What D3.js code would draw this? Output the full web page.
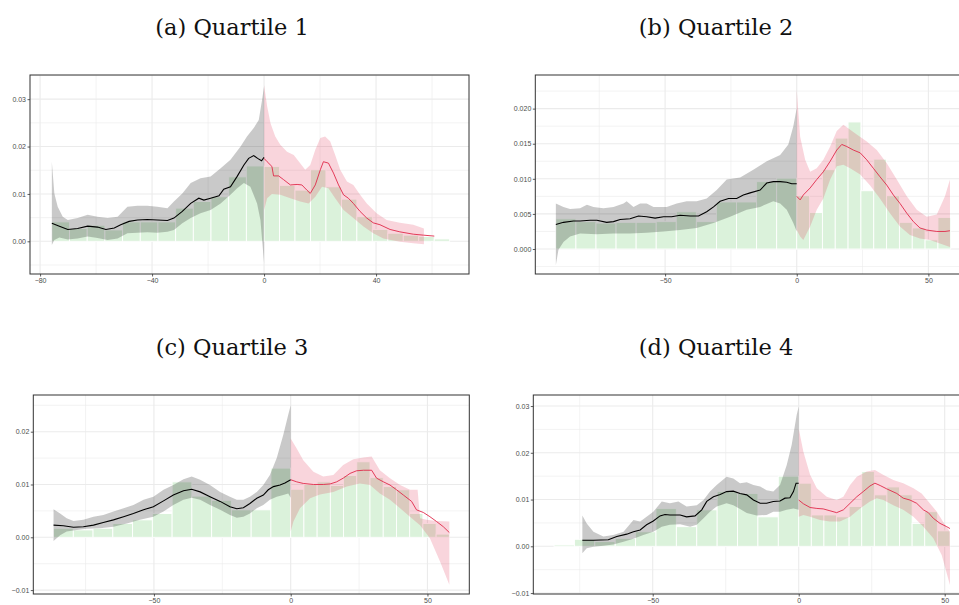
<!DOCTYPE html>
<html>
<head>
<meta charset="utf-8">
<script src="https://cdn.jsdelivr.net/npm/d3@7"></script>
<style>
  body{margin:0;background:#fff;}
  .title{font-family:"DejaVu Serif",serif;font-size:22.5px;fill:#111;}
  .axis text{font-family:"Liberation Sans",Arial,sans-serif;font-size:7px;fill:#4d4d4d;}
  .axis path{display:none;}
  .axis line{stroke:#333;stroke-width:0.8;}
</style>
</head>
<body>
<svg id="quartileChart" width="959" height="605"></svg>
<script>
// ---- Quartile 1 ----
var q1BarRange = [-75.8, 0, 66.3];
var q1BarsLeft = [.0041,.0027,.0034,.0024,.0041,.0041,.0041,.0070,.0084,.0094,.0136,.0159];
var q1BarsRight = [.0158,.0118,.0108,.0151,.0115,.0089,.0052,.0025,.0017,.0013,.0010,.0005];
var q1Black = [[-75.8,.0038],[-73.1,.0032],[-70.1,.0025],[-66.6,.0027],[-63,.0032],[-59.5,.0030],[-56.5,.0025],[-53.5,.0028],[-51.2,.0035],[-48.2,.0042],[-45.2,.0045],[-41.7,.0046],[-38.1,.0045],[-34.5,.0044],[-32.2,.0049],[-29.2,.0063],[-26.2,.0080],[-23.3,.0091],[-21.5,.0087],[-19.1,.0091],[-16.1,.0096],[-14.4,.0110],[-12,.0115],[-9.6,.0137],[-7.2,.0161],[-5.5,.0175],[-3.7,.0181],[-2.3,.0175],[-0.9,.0170],[0,.0177]];
var q1GrayUp = [[-75.8,.0168],[-74.9,.0101],[-73.7,.0073],[-71.9,.0052],[-70.1,.0045],[-66.6,.0049],[-63,.0056],[-59.5,.0052],[-55.9,.0049],[-52.3,.0052],[-48.8,.0073],[-45.2,.0075],[-41.7,.0075],[-38.1,.0073],[-34.5,.0070],[-32.2,.0084],[-29.2,.0101],[-26.2,.0123],[-22.7,.0133],[-19.1,.0137],[-15.5,.0154],[-12,.0172],[-8.4,.0200],[-6.1,.0221],[-3.7,.0239],[-1.9,.0256],[-0.7,.0299],[0,.0327]];
var q1GrayLo = [[-75.8,-.0008],[-74.9,.0003],[-73.1,.0008],[-70.1,.0004],[-66.6,.0006],[-63,.0010],[-59.5,.0007],[-55.9,.0003],[-52.3,.0006],[-48.8,.0017],[-45.2,.0018],[-41.7,.0019],[-38.1,.0018],[-34.5,.0020],[-32.2,.0024],[-29.2,.0038],[-26.2,.0049],[-22.7,.0059],[-19.1,.0066],[-15.5,.0080],[-12,.0098],[-9.6,.0112],[-7.2,.0123],[-4.9,.0115],[-2.5,.0080],[-1.3,.0045],[-0.6,-.0004],[0,-.0046]];
var q1Red = [[0,.0175],[1.1,.0168],[2.8,.0158],[3.4,.0138],[5.2,.0138],[7,.0130],[9.4,.0119],[11.8,.0120],[13.5,.0119],[15.3,.0108],[16.5,.0101],[18.3,.0119],[20.1,.0151],[21.2,.0168],[23,.0165],[24.8,.0144],[26.6,.0119],[28.4,.0098],[30.1,.0091],[31.9,.0080],[34.3,.0063],[36.7,.0049],[39,.0039],[41.4,.0035],[45,.0025],[48.5,.0020],[53.3,.0015],[56.9,.0013],[60.8,.0011]];
var q1PinkUp = [[0,.0330],[1.1,.0285],[2.3,.0249],[4,.0221],[5.8,.0204],[8.2,.0189],[10.6,.0182],[12.9,.0165],[14.7,.0151],[16.5,.0161],[18.3,.0193],[20.1,.0218],[21.8,.0221],[23.6,.0211],[25.4,.0182],[27.2,.0151],[29.6,.0126],[31.9,.0119],[34.3,.0098],[36.7,.0080],[40.2,.0059],[43.8,.0045],[48.5,.0039],[53.3,.0035],[57.1,.0027]];
var q1PinkLo = [[0,.0066],[1.1,.0091],[2.8,.0100],[5.8,.0098],[9.4,.0091],[12.9,.0084],[15.9,.0080],[18.3,.0094],[20.7,.0115],[23,.0112],[25.4,.0091],[28.4,.0066],[31.9,.0049],[35.5,.0031],[39,.0017],[42.6,.0006],[48.5,-.0001],[53.3,-.0004],[57.1,-.0006]];

// ---- Quartile 2 ----
var q2BarRange = [-91.5, 0, 58.5];
var q2BarsLeft = [.0043,.0039,.0037,.0038,.0038,.0039,.0053,.0039,.0067,.0067,.0096,.0101];
var q2BarsRight = [.0076,.0052,.0113,.0158,.0181,.0083,.0128,.0076,.0038,.0030,.0013,.0045];
var q2Black = [[-91.5,.0035],[-88.6,.0038],[-84.8,.0040],[-82.3,.0040],[-78.5,.0041],[-75.9,.0041],[-72.2,.0038],[-69.6,.0039],[-67.1,.0042],[-63.3,.0043],[-60.1,.0047],[-57,.0046],[-53.8,.0044],[-50.6,.0046],[-47.5,.0046],[-44.3,.0048],[-40.5,.0047],[-37.3,.0047],[-34.2,.0053],[-31.6,.0060],[-29.1,.0068],[-25.9,.0072],[-22.8,.0072],[-20.3,.0077],[-17.7,.0080],[-13.9,.0084],[-11.4,.0094],[-8.9,.0096],[-6.3,.0096],[-3.8,.0095],[-1.9,.0093],[0,.0093]];
var q2GrayUp = [[-91.5,.0065],[-88.6,.0060],[-86.1,.0057],[-82.3,.0058],[-79.7,.0063],[-77.2,.0060],[-73.4,.0058],[-69.6,.0060],[-65.8,.0065],[-64.6,.0068],[-62,.0060],[-59.5,.0065],[-57,.0065],[-54.4,.0060],[-49.4,.0060],[-45.6,.0065],[-41.8,.0068],[-38,.0068],[-34.2,.0072],[-30.4,.0084],[-26.6,.0099],[-21.5,.0102],[-16.5,.0113],[-11.4,.0125],[-6.3,.0134],[-3.2,.0149],[-1.3,.0175],[0,.0201]];
var q2GrayLo = [[-91.5,-.0023],[-90.5,-.0001],[-88.6,.0010],[-86.1,.0018],[-82.3,.0022],[-76,.0021],[-69.6,.0022],[-63.3,.0022],[-57,.0023],[-50.6,.0025],[-44.3,.0027],[-38,.0030],[-31.6,.0037],[-25.3,.0046],[-19,.0056],[-13.9,.0060],[-8.9,.0068],[-6.3,.0065],[-3.8,.0056],[-1.3,.0037],[0,.0025]];
var q2Red = [[0,.0075],[1.3,.0070],[2.5,.0077],[5.1,.0087],[7.6,.0099],[10.1,.0110],[12.7,.0125],[15.2,.0141],[17.1,.0149],[19,.0146],[21.5,.0141],[24.1,.0137],[26.6,.0127],[29.1,.0115],[31.6,.0103],[34.2,.0091],[36.7,.0077],[39.2,.0065],[41.8,.0051],[44.3,.0039],[46.8,.0030],[49.4,.0027],[53.2,.0025],[56.3,.0025],[58.2,.0026]];
var q2PinkUp = [[0,.0227],[1.3,.0160],[3.2,.0127],[5.1,.0110],[7.6,.0115],[10.1,.0127],[12.7,.0146],[15.2,.0168],[17.7,.0177],[20.3,.0170],[22.8,.0163],[26.6,.0153],[30.4,.0141],[34.2,.0122],[38,.0099],[41.8,.0075],[45.6,.0056],[49.4,.0046],[53.2,.0049],[56.3,.0075],[58.2,.0099]];
var q2PinkLo = [[0,.0027],[1.3,.0018],[2.5,.0013],[5.1,.0032],[7.6,.0056],[10.1,.0072],[12.7,.0099],[15.2,.0118],[17.7,.0120],[20.3,.0115],[24.1,.0106],[27.8,.0091],[31.6,.0072],[35.4,.0051],[39.2,.0032],[43,.0020],[46.8,.0015],[50.6,.0013],[54.4,.0008],[58.2,.0003]];

// ---- Quartile 3 ----
var q3BarRange = [-86.7, 0, 58];
var q3BarsLeft = [.0017,.0014,.0017,.0026,.0033,.0045,.0105,.0078,.0070,.0052,.0052,.0131];
var q3BarsRight = [.0091,.0100,.0105,.0098,.0117,.0143,.0113,.0096,.0090,.0045,.0026,.0006];
var q3Black = [[-86.7,.0023],[-83.1,.0022],[-79.4,.0019],[-75.8,.0020],[-72.1,.0023],[-68.5,.0028],[-64.8,.0033],[-61.1,.0039],[-57.5,.0045],[-53.8,.0052],[-50.2,.0058],[-46.5,.0069],[-42.9,.0080],[-39.2,.0088],[-36.2,.0091],[-33.1,.0086],[-29.5,.0077],[-25.8,.0068],[-22.2,.0058],[-19.7,.0054],[-17.3,.0056],[-14.9,.0064],[-12.4,.0074],[-10,.0080],[-8.2,.0090],[-6.3,.0096],[-3.9,.0099],[-2.1,.0103],[0,.0109]];
var q3GrayUp = [[-86.7,.0053],[-84.3,.0045],[-81.9,.0036],[-79.4,.0031],[-75.8,.0033],[-72.1,.0039],[-68.5,.0042],[-64.8,.0049],[-61.1,.0055],[-57.5,.0061],[-53.8,.0071],[-50.2,.0077],[-46.5,.0090],[-42.9,.0099],[-39.2,.0110],[-36.2,.0115],[-33.1,.0109],[-29.5,.0099],[-25.8,.0086],[-22.2,.0077],[-19.7,.0071],[-17.3,.0071],[-14.9,.0077],[-12.4,.0086],[-10,.0099],[-7.6,.0118],[-5.1,.0150],[-2.7,.0194],[-0.9,.0232],[0,.0250]];
var q3GrayLo = [[-86.7,-.0007],[-84.3,.0004],[-81.9,.0011],[-78.2,.0014],[-74.6,.0016],[-69.7,.0017],[-64.8,.0020],[-59.9,.0026],[-55.1,.0033],[-50.2,.0039],[-46.5,.0049],[-42.9,.0061],[-39.2,.0071],[-36.2,.0075],[-33.1,.0071],[-29.5,.0061],[-25.8,.0052],[-22.2,.0042],[-19.7,.0037],[-17.3,.0039],[-14.9,.0045],[-12.4,.0055],[-10,.0061],[-7.6,.0071],[-5.1,.0077],[-2.7,.0080],[-0.9,.0083],[0,.0075]];
var q3Red = [[0,.0109],[2.2,.0105],[4.6,.0102],[8.3,.0100],[11.9,.0100],[14.4,.0101],[16.8,.0105],[19.2,.0112],[21.7,.0121],[24.1,.0126],[26.6,.0127],[29.6,.0127],[31.4,.0112],[33.9,.0105],[36.3,.0099],[38.7,.0090],[41.2,.0080],[44.2,.0068],[46,.0052],[48.5,.0047],[50.9,.0039],[53.3,.0030],[55.8,.0020],[58,.0009]];
var q3PinkUp = [[0,.0187],[2.2,.0168],[4.6,.0146],[8.3,.0124],[11.9,.0115],[15.6,.0118],[19.2,.0137],[22.9,.0148],[26.6,.0151],[29.6,.0153],[32.6,.0127],[36.3,.0112],[40,.0099],[43.6,.0090],[46.4,.0090],[47.3,.0036],[49.7,.0033],[53.3,.0031],[58,.0030]];
var q3PinkLo = [[0,.0011],[1,.0030],[3.4,.0055],[7.1,.0074],[10.7,.0081],[15.6,.0086],[20.5,.0096],[25.3,.0102],[29,.0099],[32.6,.0083],[36.3,.0071],[40,.0055],[43.6,.0039],[47.3,.0023],[50.9,-.0002],[54.6,-.0046],[58,-.0090]];

// ---- Quartile 4 ----
var q4BarRange = [-83.8, 0, 51.8];
var q4BarsLeft = [.0003,.0015,.0010,.0017,.0031,.0081,.0042,.0078,.0117,.0113,.0063,.0150];
var q4BarsRight = [.0135,.0067,.0067,.0063,.0085,.0160,.0110,.0127,.0110,.0049,.0074,.0033];
var q4Black = [[-74.1,.0013],[-70.3,.0013],[-65.2,.0014],[-62.3,.0021],[-58.9,.0026],[-56.6,.0031],[-54.3,.0035],[-52.1,.0046],[-49.8,.0054],[-47.5,.0065],[-45.8,.0068],[-44.1,.0067],[-40.6,.0067],[-38.4,.0063],[-35.5,.0065],[-33.2,.0078],[-31.5,.0096],[-29.2,.0106],[-26.9,.0111],[-24.7,.0117],[-22.4,.0118],[-20.1,.0113],[-17.8,.0110],[-15.5,.0099],[-13.2,.0092],[-11,.0092],[-8.7,.0096],[-6.4,.0097],[-4.7,.0103],[-3,.0104],[-1.8,.0117],[-0.9,.0135],[0,.0135]];
var q4GrayUp = [[-74.1,.0066],[-72.6,.0049],[-70.3,.0031],[-66.9,.0021],[-63.5,.0024],[-60,.0031],[-56.6,.0056],[-54.3,.0053],[-52.1,.0063],[-49.8,.0074],[-46.9,.0096],[-44.1,.0092],[-41.2,.0096],[-38.4,.0085],[-34.9,.0088],[-32.6,.0099],[-30.4,.0117],[-28.1,.0131],[-24.7,.0149],[-22.4,.0145],[-20.1,.0135],[-17.8,.0137],[-15.5,.0131],[-13.2,.0128],[-11,.0120],[-8.7,.0117],[-6.4,.0131],[-4.1,.0174],[-2.4,.0217],[-0.7,.0281],[0,.0299]];
var q4GrayLo = [[-74.1,-.0015],[-72.6,-.0004],[-70.3,-.0001],[-66.9,.0001],[-63.5,.0004],[-60,.0010],[-56.6,.0016],[-53.2,.0024],[-49.8,.0031],[-46.9,.0042],[-44.1,.0046],[-40.6,.0047],[-37.2,.0042],[-34.9,.0046],[-32.6,.0060],[-30.4,.0074],[-28.1,.0085],[-24.7,.0092],[-22.4,.0088],[-20.1,.0080],[-17.8,.0071],[-14.4,.0066],[-11,.0067],[-8.7,.0074],[-6.4,.0074],[-4.1,.0078],[-1.8,.0081],[0,.0078]];
var q4Red = [[0,.0099],[1.6,.0091],[3.9,.0083],[6.2,.0081],[8.4,.0080],[10.7,.0076],[13,.0072],[15.3,.0078],[17.6,.0092],[19.9,.0106],[22.1,.0117],[24.4,.0129],[26.1,.0135],[27.9,.0130],[30.1,.0123],[33.6,.0113],[35.8,.0103],[38.1,.0099],[40.4,.0092],[42.7,.0078],[44.4,.0072],[46.1,.0060],[48.4,.0049],[50.7,.0042],[51.8,.0038]];
var q4PinkUp = [[0,.0252],[1.6,.0202],[3.9,.0153],[6.2,.0124],[9.6,.0106],[13,.0099],[15.3,.0106],[17.6,.0131],[19.9,.0149],[23.3,.0160],[26.1,.0163],[28.9,.0153],[32.4,.0142],[35.8,.0135],[39.3,.0124],[42.1,.0113],[44.4,.0096],[47.3,.0074],[50.1,.0046],[51.8,.0031]];
var q4PinkLo = [[0,.0063],[1.6,.0067],[3.9,.0063],[7.3,.0056],[10.7,.0053],[14.1,.0053],[17.6,.0063],[21,.0081],[24.4,.0096],[26.7,.0103],[29,.0099],[32.4,.0088],[35.8,.0078],[39.3,.0063],[42.7,.0042],[46.1,.0017],[49,-.0019],[51.8,-.0083]];

// tick values / labels
var xTicksA = [-80, -40, 0, 40];
var xMinorA = [-60, -20, 20, 60];
var xTicksB = [-50, 0, 50];
var xMinorB = [-75, -25, 25];
var yTicksA = [0, 0.01, 0.02, 0.03];
var yTicksB = [0, 0.005, 0.010, 0.015, 0.020];
var yTicksC = [-0.01, 0, 0.01, 0.02];
var yTicksD = [-0.01, 0, 0.01, 0.02, 0.03];
var titles = ["(a) Quartile 1", "(b) Quartile 2", "(c) Quartile 3", "(d) Quartile 4"];

var svg = d3.select("#quartileChart");

class quartilePanel{
  constructor(id, area, xDomain, yDomain){
    this.area = area;
    this.x = d3.scaleLinear().domain(xDomain).range([0, area.width]);
    this.y = d3.scaleLinear().domain(yDomain).range([area.height, 0]);
    this.g = svg.append("g")
      .attr("transform", "translate(" + area.x + "," + area.y + ")");
    svg.append("clipPath").attr("id", "clip" + id)
      .append("rect").attr("width", area.width).attr("height", area.height);
    this.clip = "url(#clip" + id + ")";
  }

  minus(s){ return s.replace("-", "\u2212"); }

  grid(xMajor, xMinor, yMajor, yFmt){
    var plot = this;
    var step = yMajor[1] - yMajor[0];
    var yMinor = yMajor.map(function(v){ return v - step/2; });
    yMinor.push(yMajor[yMajor.length-1] + step/2);
    yMinor = yMinor.filter(function(v){ return v > plot.y.domain()[0] && v < plot.y.domain()[1]; });
    var gg = this.g.append("g").attr("clip-path", this.clip);
    gg.selectAll(".xmin").data(xMinor).enter().append("line")
      .attr("x1", function(d){ return plot.x(d); }).attr("x2", function(d){ return plot.x(d); })
      .attr("y1", 0).attr("y2", this.area.height)
      .style("stroke", "#ebebeb").style("stroke-width", 0.6);
    gg.selectAll(".ymin").data(yMinor).enter().append("line")
      .attr("y1", function(d){ return plot.y(d); }).attr("y2", function(d){ return plot.y(d); })
      .attr("x1", 0).attr("x2", this.area.width)
      .style("stroke", "#ebebeb").style("stroke-width", 0.6);
    gg.selectAll(".xmaj").data(xMajor).enter().append("line")
      .attr("x1", function(d){ return plot.x(d); }).attr("x2", function(d){ return plot.x(d); })
      .attr("y1", 0).attr("y2", this.area.height)
      .style("stroke", "#ebebeb").style("stroke-width", 1.1);
    gg.selectAll(".ymaj").data(yMajor).enter().append("line")
      .attr("y1", function(d){ return plot.y(d); }).attr("y2", function(d){ return plot.y(d); })
      .attr("x1", 0).attr("x2", this.area.width)
      .style("stroke", "#ebebeb").style("stroke-width", 1.1);
    this.xMajor = xMajor; this.yMajor = yMajor; this.yFmt = yFmt;
  }

  update(range, barsLeft, barsRight, black, grayUp, grayLo, red, pinkUp, pinkLo){
    var plot = this;
    var bars = [];
    var wl = (range[1] - range[0]) / barsLeft.length;
    barsLeft.forEach(function(h, i){ bars.push([range[0] + i*wl, range[0] + (i+1)*wl, h]); });
    var wr = (range[2] - range[1]) / barsRight.length;
    barsRight.forEach(function(h, i){ bars.push([range[1] + i*wr, range[1] + (i+1)*wr, h]); });

    var body = this.g.append("g").attr("clip-path", this.clip);
    body.selectAll("rect.bar").data(bars).enter().append("rect")
      .attr("class", "bar")
      .attr("x", function(d){ return plot.x(d[0]); })
      .attr("width", function(d){ return plot.x(d[1]) - plot.x(d[0]); })
      .attr("y", function(d){ return plot.y(d[2]); })
      .attr("height", function(d){ return plot.y(0) - plot.y(d[2]); })
      .style("fill", "#dbf2db")
      .style("stroke", "#ffffff")
      .style("stroke-width", 0.9);

    var line = d3.line()
      .x(function(d){ return plot.x(d[0]); })
      .y(function(d){ return plot.y(d[1]); });
    var ribbon = function(up, lo){ return line(up.concat(lo.slice().reverse())) + "Z"; };

    body.append("path").attr("d", ribbon(grayUp, grayLo))
      .style("fill", "#000").style("fill-opacity", 0.21);
    body.append("path").attr("d", ribbon(pinkUp, pinkLo))
      .style("fill", "#dc143c").style("fill-opacity", 0.18);
    body.append("path").attr("d", line(black))
      .style("fill", "none").style("stroke", "#000").style("stroke-width", 1.1);
    body.append("path").attr("d", line(red))
      .style("fill", "none").style("stroke", "#e0294a").style("stroke-width", 0.9);

    this.g.append("rect")
      .attr("width", this.area.width).attr("height", this.area.height)
      .style("fill", "none").style("stroke", "#333").style("stroke-width", 1);

    var xAxis = d3.axisBottom(this.x).tickValues(this.xMajor).tickSize(2.5).tickPadding(1.5)
      .tickFormat(function(d){ return plot.minus(d3.format("d")(d)); });
    this.g.append("g").attr("class", "axis")
      .attr("transform", "translate(0," + this.area.height + ")").call(xAxis);
    var yAxis = d3.axisLeft(this.y).tickValues(this.yMajor).tickSize(2.5).tickPadding(1.5)
      .tickFormat(function(d){ return plot.minus(d3.format(plot.yFmt)(d)); });
    this.g.append("g").attr("class", "axis").call(yAxis);
  }
}

var pa = new quartilePanel("a", {x:30, y:75, width:439, height:199}, [-83.6, 73.2], [-0.0069, 0.0351]);
pa.grid(xTicksA, xMinorA, yTicksA, ".2f");
pa.update(q1BarRange, q1BarsLeft, q1BarsRight, q1Black, q1GrayUp, q1GrayLo, q1Red, q1PinkUp, q1PinkLo);

var pb = new quartilePanel("b", {x:535.3, y:75, width:435.2, height:199}, [-99.3, 66], [-0.00356, 0.02479]);
pb.grid(xTicksB, xMinorB, yTicksB, ".3f");
pb.update(q2BarRange, q2BarsLeft, q2BarsRight, q2Black, q2GrayUp, q2GrayLo, q2Red, q2PinkUp, q2PinkLo);

var pc = new quartilePanel("c", {x:33.3, y:395, width:436, height:199}, [-94.1, 65.3], [-0.01074, 0.02695]);
pc.grid(xTicksB, xMinorB, yTicksC, ".2f");
pc.update(q3BarRange, q3BarsLeft, q3BarsRight, q3Black, q3GrayUp, q3GrayLo, q3Red, q3PinkUp, q3PinkLo);

var pd = new quartilePanel("d", {x:533.3, y:395, width:436.5, height:199}, [-90.9, 58.6], [-0.0102, 0.03236]);
pd.grid(xTicksB, xMinorB, yTicksD, ".2f");
pd.update(q4BarRange, q4BarsLeft, q4BarsRight, q4Black, q4GrayUp, q4GrayLo, q4Red, q4PinkUp, q4PinkLo);

var titlePos = [[232, 35], [716, 35], [232, 355], [716, 355]];
svg.selectAll("text.title").data(titles).enter().append("text")
  .attr("class", "title")
  .attr("x", function(d, i){ return titlePos[i][0]; })
  .attr("y", function(d, i){ return titlePos[i][1]; })
  .attr("text-anchor", "middle")
  .text(function(d){ return d; });
</script>
</body>
</html>
